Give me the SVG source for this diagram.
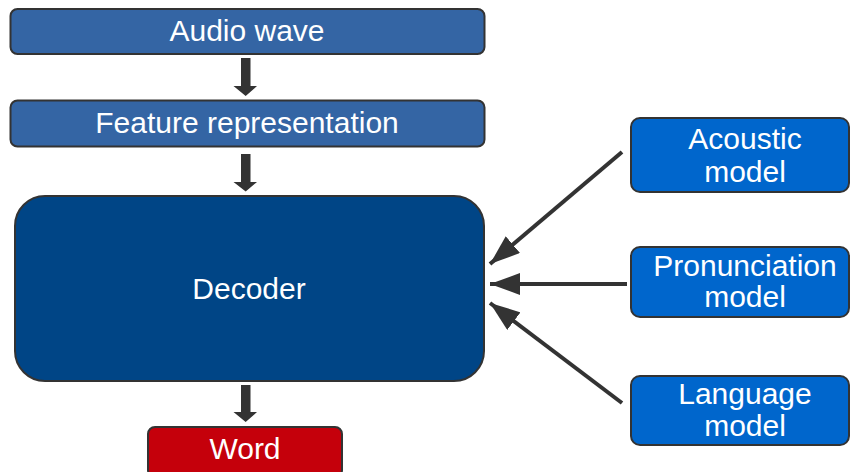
<svg xmlns="http://www.w3.org/2000/svg" width="850" height="472" viewBox="0 0 850 472">
  <style>
    .box { stroke: #333333; stroke-width: 2; }
    .step { fill: #3465a4; }
    .dec { fill: #004586; }
    .model { fill: #0066cc; }
    .out { fill: #c5000b; }
    text { font-family: "Liberation Sans", Arial, sans-serif; font-size: 30px; fill: #ffffff; text-anchor: middle; }
    .flow { fill: #333333; }
    .link { stroke: #333333; stroke-width: 4; fill: none; marker-end: url(#head); }
  </style>
  <defs>
    <marker id="head" markerUnits="userSpaceOnUse" markerWidth="32" markerHeight="22" refX="30" refY="11" orient="auto">
      <path d="M0,0 L30,11 L0,22 Z" fill="#333333"/>
    </marker>
  </defs>

  <rect width="850" height="472" fill="#ffffff"/>

  <g id="audio-wave">
    <rect class="box step" x="10.5" y="9" width="474" height="45" rx="7"/>
    <text x="247" y="41">Audio wave</text>
  </g>

  <g id="feature-representation">
    <rect class="box step" x="10.5" y="100.5" width="474" height="46" rx="7"/>
    <text x="247" y="133">Feature representation</text>
  </g>

  <g id="decoder">
    <rect class="box dec" x="15" y="196" width="469" height="185" rx="30"/>
    <text x="249" y="299">Decoder</text>
  </g>

  <g id="word">
    <rect class="box out" x="148" y="427" width="194" height="50" rx="7"/>
    <text x="245" y="459">Word</text>
  </g>

  <g id="acoustic-model">
    <rect class="box model" x="631" y="118" width="218" height="74" rx="9"/>
    <text x="745" y="149">Acoustic</text>
    <text x="745" y="182">model</text>
  </g>

  <g id="pronunciation-model">
    <rect class="box model" x="631" y="247" width="218" height="70" rx="9"/>
    <text x="745" y="276">Pronunciation</text>
    <text x="745" y="307">model</text>
  </g>

  <g id="language-model">
    <rect class="box model" x="631" y="376" width="218" height="69" rx="9"/>
    <text x="745" y="404">Language</text>
    <text x="745" y="436">model</text>
  </g>

  <g id="connectors">
    <!-- block arrows down the main pipeline -->
    <path class="flow" d="M241,58 H250.5 V86 H257 L245.7,96 L233.5,86 H241 Z"/>
    <path class="flow" d="M241,154 H250.5 V182 H257 L245.7,191.5 L233.5,182 H241 Z"/>
    <path class="flow" d="M241,385 H250.5 V412 H257 L245.7,422 L233.5,412 H241 Z"/>
    <!-- model inputs into the decoder -->
    <line class="link" x1="622" y1="152" x2="490" y2="264"/>
    <line class="link" x1="627" y1="284" x2="490" y2="284"/>
    <line class="link" x1="622" y1="403" x2="490" y2="303"/>
  </g>
</svg>
